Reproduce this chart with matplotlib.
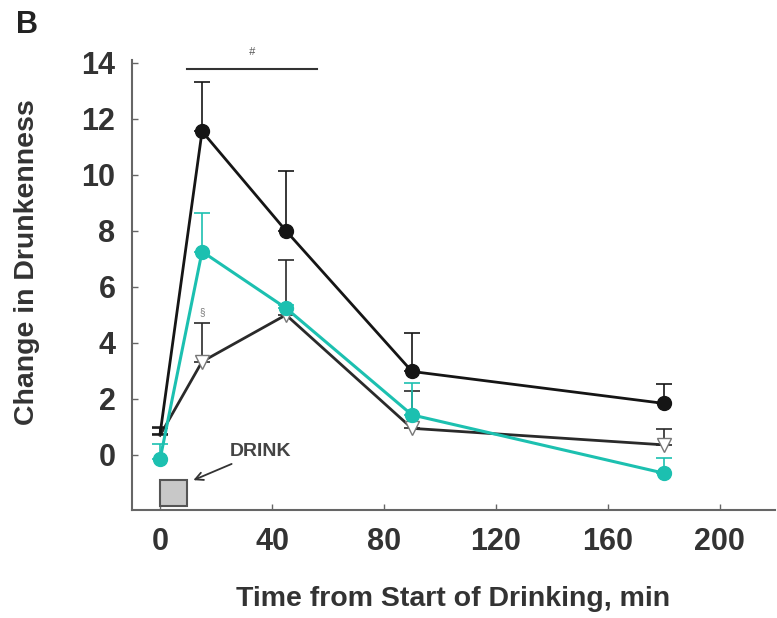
import matplotlib
matplotlib.use("Agg")
import matplotlib.pyplot as plt
from matplotlib.patches import Rectangle

# Data.
time_min = [0, 15, 45, 90, 180]
black_mean = [0.75, 11.55, 8.0, 2.98, 1.84]
black_err = [0.2, 1.75, 2.14, 1.39, 0.68]
cyan_mean = [-0.15, 7.26, 5.24, 1.43, -0.65]
cyan_err = [0.55, 1.37, 0.1, 1.15, 0.53]
tri_mean = [0.7, 3.33, 5.0, 0.95, 0.36]
tri_err = [0.3, 1.37, 1.96, 1.34, 0.56]

x_ticks = [0, 40, 80, 120, 160, 200]
y_ticks = [0, 2, 4, 6, 8, 10, 12, 14]

plt.rcParams["font.family"] = ["Liberation Sans", "DejaVu Sans"]

fig = plt.figure(figsize=(7.77, 6.18), dpi=100)
ax = fig.add_axes([0.170, 0.175, 0.827, 0.728])

black = "#151515"
cyan = "#1cc0b0"

# Triangle series (drawn first, under the others).
ax.errorbar(time_min, tri_mean, yerr=[[0] * 5, tri_err], color="#2a2a2a",
            lw=2.0, elinewidth=1.2, capsize=6, capthick=1.2,
            marker="v", markersize=10, markerfacecolor="white",
            markeredgecolor="#777777", markevery=[1, 2, 3, 4], zorder=2)
ax.errorbar(time_min, black_mean, yerr=[[0] * 5, black_err], color=black,
            lw=2.0, elinewidth=1.2, capsize=6, capthick=1.2,
            marker="o", markersize=10, markevery=[1, 2, 3, 4], zorder=3)
ax.errorbar(time_min, cyan_mean, yerr=[[0] * 5, cyan_err], color=cyan,
            lw=2.2, elinewidth=1.2, capsize=6, capthick=1.2,
            marker="o", markersize=10, zorder=4)

# Drink box and label.
ax.add_patch(Rectangle((0, -1.84), 9.5, 0.94, facecolor="#c8c8c8",
                       edgecolor="#555555", lw=1.5, zorder=5))
ax.annotate("DRINK", xy=(11.9, -0.9), xytext=(25, 0.12),
            fontsize=14, fontweight="bold", color="#444444", va="center",
            arrowprops=dict(arrowstyle="->", color="#333333", lw=1.3,
                            shrinkA=2, shrinkB=0))

# Significance markers.
ax.plot([9.5, 56], [13.77, 13.77], color="#333333", lw=1.5, clip_on=False)
ax.text(32.7, 14.4, "#", fontsize=8, color="#555555", ha="center",
        va="center", style="italic")
ax.text(15, 5.1, "§", fontsize=7, color="#777777", ha="center", va="center")

ax.set_xlim(-10, 219.6)
ax.set_ylim(-1.96, 14.1)
ax.set_xticks(x_ticks)
ax.set_yticks(y_ticks)

for side in ["top", "right"]:
    ax.spines[side].set_visible(False)
for side in ["left", "bottom"]:
    ax.spines[side].set_color("#666666")
    ax.spines[side].set_linewidth(1.5)

ax.tick_params(axis="both", direction="in", length=4, width=1,
               color="#666666", labelsize=22, labelcolor="#333333")
ax.tick_params(axis="x", pad=12)
ax.tick_params(axis="y", pad=12)
for lab in ax.get_xticklabels() + ax.get_yticklabels():
    lab.set_fontweight("bold")

ax.set_xlabel("Time from Start of Drinking, min", fontsize=20.5,
              fontweight="bold", color="#333333", labelpad=21)
ax.set_ylabel("Change in Drunkenness", fontsize=20.5, fontweight="bold",
              color="#333333")
ax.yaxis.set_label_coords(-0.143, 0.55)

fig.text(0.035, 0.96, "B", fontsize=22, fontweight="bold", color="#222222",
         ha="center", va="center")

fig.savefig("out.png", dpi=100)
